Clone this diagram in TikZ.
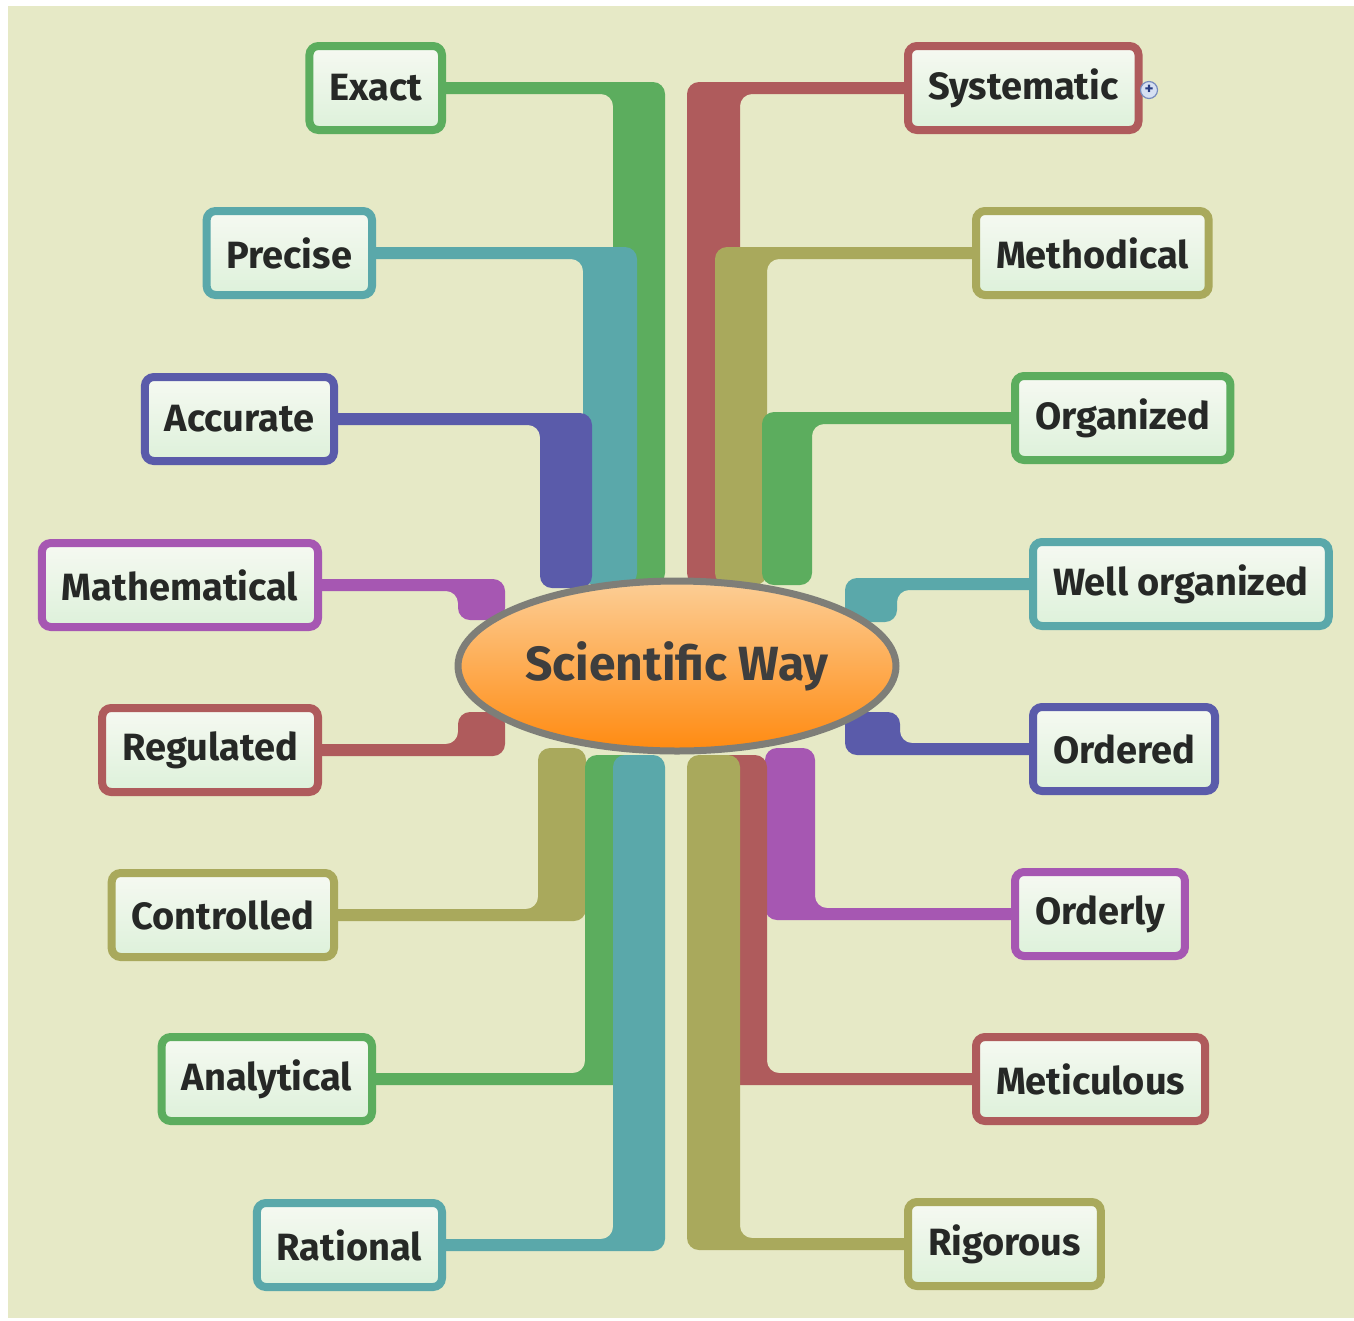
\documentclass[tikz,border=0pt]{standalone}
\usepackage{fontspec}
\setmainfont{Fira Sans}
\usetikzlibrary{calc,shapes.geometric}

\definecolor{bgbeige}{HTML}{E6E9C6}
\definecolor{cgreen}{HTML}{5CAD5E}
\definecolor{cteal}{HTML}{5AA8AA}
\definecolor{cblue}{HTML}{5A5BAA}
\definecolor{cmagenta}{HTML}{A657B2}
\definecolor{cred}{HTML}{AF5B5C}
\definecolor{colive}{HTML}{A9A95C}
\definecolor{boxtop}{HTML}{F6F9F2}
\definecolor{boxbot}{HTML}{DDF1DA}
\definecolor{wordtext}{HTML}{262826}
\definecolor{hubedge}{HTML}{7E7E78}

\pgfdeclarelayer{back}
\pgfdeclarelayer{links}
\pgfsetlayers{back,links,main}

\tikzset{
    word/.style={draw=#1, line width=8pt, rounded corners=9pt,
        top color=boxtop, bottom color=boxbot, minimum height=84pt,
        inner xsep=20pt, text=wordtext,
        font=\fontsize{38}{42}\selectfont\bfseries},
    hub/.style={ellipse, draw=hubedge, line width=7pt,
        minimum width=430pt, minimum height=170pt,
        top color={rgb,255:red,252;green,206;blue,150},
        middle color={rgb,255:red,251;green,166;blue,78},
        bottom color={rgb,255:red,255;green,138;blue,16},
        text={rgb,255:red,62;green,62;blue,62},
        font=\fontsize{48}{52}\selectfont\bfseries},
    link/.style={fill=#1, rounded corners=12pt},
}

% #1 node, #2 inner edge of bar, #3 outer edge of bar, #4 end at hub, #5 shift of outer side, #6 colour
\newcommand{\branch}[6]{%
    \fill[link=#6] (#3,#4) |- ($(#1.center)+(0,#5)$)
        -- ($(#1.center)+(0,{-(#5)})$) -| (#2,#4) -- cycle;
}

\begin{document}
\begin{tikzpicture}[x=1pt,y=-1pt]
    \useasboundingbox (0,0) rectangle (1354,1320);
    \begin{pgfonlayer}{back}
        \fill[white] (0,0) rectangle (1354,1320);
        \fill[bgbeige] (8,6) rectangle (1354,1318);
    \end{pgfonlayer}

    \node[hub] (hub) at (677,666) {Scientific Way};

    % left side
    \node[word=cgreen, anchor=east] (exact) at (446,88) {Exact};
    \node[word=cteal, anchor=east] (precise) at (376,253) {Precise};
    \node[word=cblue, anchor=east] (accurate) at (338,419) {Accurate};
    \node[word=cmagenta, anchor=east] (mathematical) at (322,585) {Mathematical};
    \node[word=cred, anchor=east] (regulated) at (322,750) {Regulated};
    \node[word=colive, anchor=east] (controlled) at (338,915) {Controlled};
    \node[word=cgreen, anchor=east] (analytical) at (376,1079) {Analytical};
    \node[word=cteal, anchor=east] (rational) at (446,1245) {Rational};

    % right side
    \node[word=cred, anchor=west] (systematic) at (904,88) {Systematic};
    \node[word=colive, anchor=west] (methodical) at (972,253) {Methodical};
    \node[word=cgreen, anchor=west] (organized) at (1011,418) {Organized};
    \node[word=cteal, anchor=west] (wellorg) at (1029,584) {Well organized};
    \node[word=cblue, anchor=west] (ordered) at (1029,749) {Ordered};
    \node[word=cmagenta, anchor=west] (orderly) at (1011,914) {Orderly};
    \node[word=cred, anchor=west] (meticulous) at (972,1079) {Meticulous};
    \node[word=colive, anchor=west] (rigorous) at (904,1244) {Rigorous};

    \node[circle, draw={rgb,255:red,120;green,140;blue,190}, line width=1.2pt,
        fill={rgb,255:red,214;green,224;blue,242}, inner sep=0pt, minimum size=17pt,
        text={rgb,255:red,40;green,60;blue,130}, font=\fontsize{17}{17}\selectfont\bfseries]
        (sysplus) at (1149,90) {+};

    \begin{pgfonlayer}{links}
        \branch{exact}{613}{665}{585}{-6}{cgreen}
        \branch{precise}{583}{637}{585}{-6}{cteal}
        \branch{accurate}{540}{592}{588}{-6}{cblue}
        \branch{mathematical}{458}{505}{620}{-6}{cmagenta}
        \branch{regulated}{458}{505}{712}{6}{cred}
        \branch{controlled}{538}{586}{748}{6}{colive}
        \branch{analytical}{585}{637}{755}{6}{cgreen}
        \branch{rational}{613}{665}{755}{6}{cteal}

        \branch{systematic}{740}{687}{585}{-6}{cred}
        \branch{methodical}{767}{715}{585}{-6}{colive}
        \branch{organized}{812}{762}{585}{-6}{cgreen}
        \branch{wellorg}{897}{845}{622}{-6}{cteal}
        \branch{ordered}{900}{845}{712}{6}{cblue}
        \branch{orderly}{815}{765}{748}{6}{cmagenta}
        \branch{meticulous}{767}{715}{755}{6}{cred}
        \branch{rigorous}{740}{687}{755}{6}{colive}
    \end{pgfonlayer}
\end{tikzpicture}
\end{document}
